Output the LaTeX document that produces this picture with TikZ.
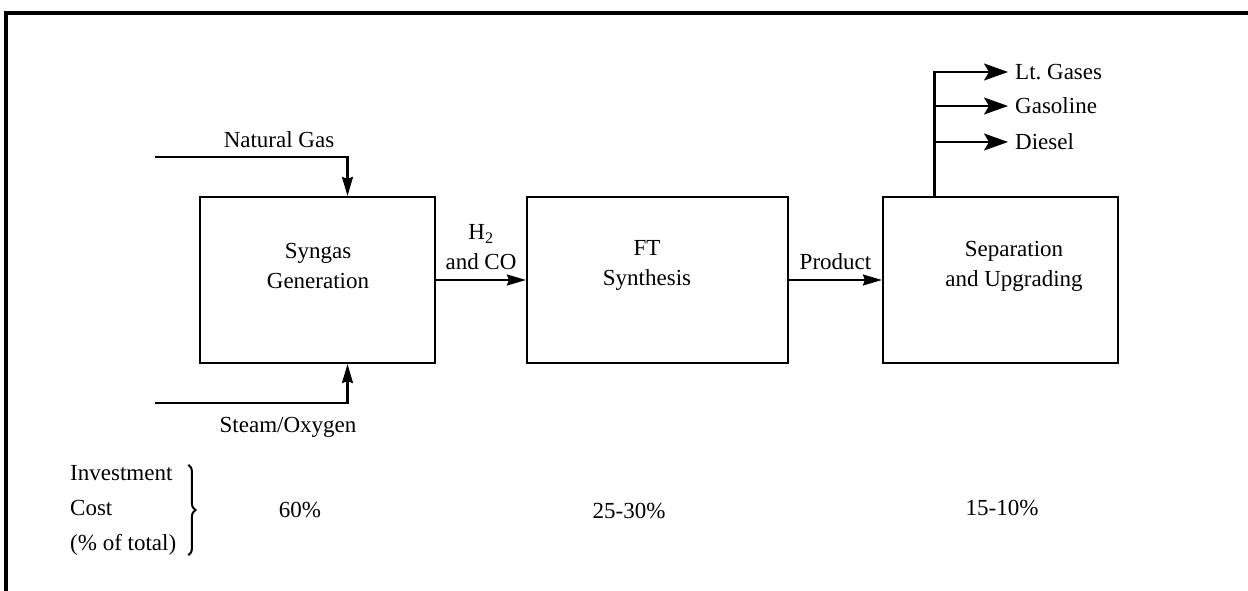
\documentclass[tikz,border=0pt]{standalone}
\usepackage{fontspec}
\setmainfont{Liberation Serif}
\usetikzlibrary{arrows.meta,decorations.pathreplacing}

\tikzset{
  stage/.style={draw, line width=2.2pt, minimum height=166pt, inner sep=0pt},
  txt/.style={inner sep=0pt, align=center},
  flow/.style={line width=2.2pt, -{Stealth[length=19pt,width=11pt,inset=2pt]}},
  prod/.style={line width=2.2pt, -{Stealth[length=24pt,width=17pt,inset=5pt]}}
}

\begin{document}
\begin{tikzpicture}[x=1pt, y=-1pt, font=\fontsize{23}{30}\selectfont]
            \useasboundingbox (0,0) rectangle (1248,591);
            \draw[line width=3.5pt] (6,591) -- (6,13) -- (1248,13);
            % process stages
            \node[stage, minimum width=235pt] (syn) at (317.5,280) {};
            \node[stage, minimum width=261pt] (ft) at (657.5,280) {};
            \node[stage, minimum width=235pt] (sep) at (1000.5,280) {};
            \node[txt] (syntxt) at (318,266) {Syngas\\Generation};
            \node[txt] (fttxt) at (647,265) {FT\\Synthesis};
            \node[txt] (septxt) at (1014,266) {Separation\\and Upgrading};
            % feeds
            \coordinate (ngin) at (155,157);
            \coordinate (stin) at (155,403);
            \node[txt] (ngtxt) at (279,140) {Natural Gas};
            \node[txt] (sttxt) at (288,427) {Steam/Oxygen};
            \draw[flow] (ngin) -| ([xshift=30pt]syn.north);
            \draw[flow] (stin) -| ([xshift=30pt]syn.south);
            \path[flow] (syn) edge node[txt, above=9pt] {H\textsubscript{2}\\and CO} (ft);
            \path[flow] (ft) edge node[txt, above=9pt] {Product} (sep);
            % products
            \coordinate (split) at ([xshift=-66pt]sep.north);
            \node[txt, anchor=west] (lt) at (1015,72) {Lt.\ Gases};
            \node[txt, anchor=west] (gasoline) at (1015,106) {Gasoline};
            \node[txt, anchor=west] (diesel) at (1015,142) {Diesel};
            \draw[prod, shorten >=7pt] (split) |- (lt.west);
            \draw[prod, shorten >=7pt] (split) |- (gasoline.west);
            \draw[prod, shorten >=7pt] (split) |- (diesel.west);
            % investment cost
            \node[txt, align=left, anchor=west, font=\fontsize{23}{35}\selectfont] (cost) at (70,510) {Investment\\Cost\\(\% of total)};
            \draw[line width=2pt, decorate, decoration={brace, amplitude=7pt}] ([xshift=12pt]cost.north east) -- ([xshift=12pt]cost.south east);
            \node[txt] (pct1) at (300,510) {60\%};
            \node[txt] (pct2) at (629,511) {25-30\%};
            \node[txt] (pct3) at (1002,508) {15-10\%};
        \end{tikzpicture}
\end{document}
